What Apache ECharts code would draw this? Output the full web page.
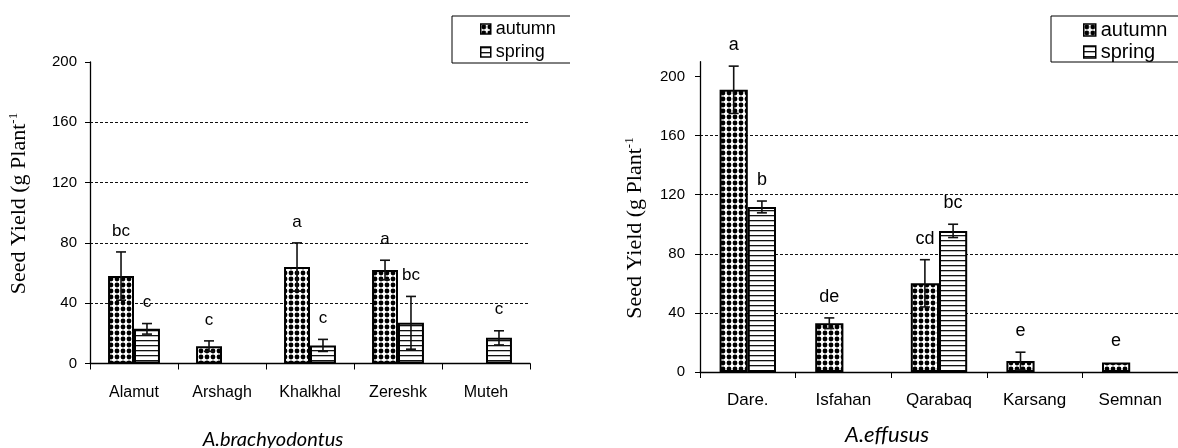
<!DOCTYPE html>
<html>
<head>
<meta charset="utf-8">
<script src="https://cdn.jsdelivr.net/npm/echarts@6/dist/echarts.min.js"></script>
<style>
html,body{margin:0;padding:0;background:#fff;}
#chart{width:1178px;height:448px;}
</style>
</head>
<body>
<div id="chart"></div>
<script>
// ---------- data ----------
const seasons = ['autumn', 'spring'];
const yTicksLeft = [0, 40, 80, 120, 160, 200];
const yTicksRight = [0, 40, 80, 120, 160, 200];

const leftCategories = ['Alamut', 'Arshagh', 'Khalkhal', 'Zereshk', 'Muteh'];
const leftAutumn = [58, 11.5, 64, 62, null];
const leftAutumnErr = [16, 3.5, 16, 6.5, null];
const leftAutumnLetters = ['bc', 'c', 'a', 'a', ''];
const leftSpring = [23, null, 12, 27, 17];
const leftSpringErr = [3.5, null, 4, 17.5, 4.7];
const leftSpringLetters = ['c', '', 'c', 'bc', 'c'];

const rightCategories = ['Dare.', 'Isfahan', 'Qarabaq', 'Karsang', 'Semnan'];
const rightAutumn = [191, 33, 60, 7.4, 6.5];
const rightAutumnErr = [16, 3.6, 16, 6, 0];
const rightAutumnLetters = ['a', 'de', 'cd', 'e', 'e'];
const rightSpring = [111.7, null, 95.5, null, null];
const rightSpringErr = [4, null, 4.5, null, null];
const rightSpringLetters = ['b', '', 'bc', '', ''];

const yTitle = 'Seed Yield (g Plant';
const yTitleSup = '-1';
const leftTitle = 'A.brachyodontus';
const rightTitle = 'A.effusus';

// ---------- styles ----------
const SANS = '"Liberation Sans", Arial, sans-serif';
const SERIF = '"Liberation Serif", "Times New Roman", serif';
const ITAL = 'Lato, "Open Sans", sans-serif';
const GAP = 0.41;

function dotPattern() {
  const c = document.createElement('canvas');
  c.width = 6; c.height = 6;
  const g = c.getContext('2d');
  g.fillStyle = '#fff'; g.fillRect(0, 0, 6, 6);
  g.fillStyle = '#000';
  g.beginPath();
  g.arc(3, 3, 2.4, 0, Math.PI * 2);
  g.fill();
  return c;
}
function linePattern() {
  const c = document.createElement('canvas');
  c.width = 4; c.height = 5;
  const g = c.getContext('2d');
  g.fillStyle = '#fff'; g.fillRect(0, 0, 4, 5);
  g.fillStyle = '#111'; g.fillRect(0, 0, 4, 1.3);
  return c;
}
const autumnFill = { image: dotPattern(), repeat: 'repeat' };
const springFill = { image: linePattern(), repeat: 'repeat' };

function barSeries(name, data, axis, fill) {
  return {
    type: 'bar', name: name, data: data,
    xAxisIndex: axis, yAxisIndex: axis,
    barGap: '0%', barCategoryGap: (GAP * 100) + '%',
    itemStyle: { color: fill, borderColor: '#000', borderWidth: 2 },
    emphasis: { disabled: true },
    animation: false, z: 2
  };
}

function errSeries(vals, errs, letters, axis, side, fontSize) {
  const data = [];
  vals.forEach((v, i) => { if (v != null) data.push([i, v, errs[i] == null ? 0 : errs[i]]); });
  return {
    type: 'custom', xAxisIndex: axis, yAxisIndex: axis, data: data,
    encode: { x: 0, y: 1 }, z: 5, silent: true, animation: false,
    renderItem: function (params, api) {
      const idx = api.value(0), v = api.value(1), e = api.value(2);
      const band = api.size([1, 0])[0];
      const bw = band * (1 - GAP) / 2;
      const x = api.coord([idx, v])[0] + side * bw / 2;
      const children = [];
      const topY = api.coord([idx, v + e])[1];
      if (e > 0) {
        const botY = api.coord([idx, v - e])[1];
        const st = { stroke: '#111', lineWidth: 1.6 };
        children.push({ type: 'line', shape: { x1: x, y1: topY, x2: x, y2: botY }, style: st });
        children.push({ type: 'line', shape: { x1: x - 5, y1: topY, x2: x + 5, y2: topY }, style: st });
        children.push({ type: 'line', shape: { x1: x - 5, y1: botY, x2: x + 5, y2: botY }, style: st });
      }
      const letter = letters[idx];
      if (letter) {
        children.push({
          type: 'text',
          style: { x: x, y: topY - 21, text: letter, align: 'center', verticalAlign: 'middle',
                   fontSize: fontSize, fontFamily: SANS, fill: '#000' }
        });
      }
      return { type: 'group', children: children };
    }
  };
}

function yAxisCfg(grid, max, ticks, fontSize, margin) {
  return {
    type: 'value', gridIndex: grid, min: 0, max: max, interval: 40,
    axisLine: { show: true, lineStyle: { color: '#000', width: 1.3 } },
    axisTick: { show: true, length: 5, customValues: ticks, lineStyle: { color: '#000' } },
    axisLabel: { customValues: ticks, color: '#000', fontFamily: SANS, fontSize: fontSize, margin: margin },
    splitLine: { show: true, showMaxLine: false, lineStyle: { color: '#111', type: [3, 2], width: 1 } }
  };
}
function xAxisCfg(grid, cats, fontSize, margin) {
  return {
    type: 'category', gridIndex: grid, data: cats,
    axisLine: { show: true, lineStyle: { color: '#000', width: 1.3 } },
    axisTick: { show: true, length: 6, alignWithLabel: false, lineStyle: { color: '#000' } },
    axisLabel: { color: '#000', fontFamily: SANS, fontSize: fontSize, margin: margin, interval: 0 },
    splitLine: { show: false }
  };
}

const chart = echarts.init(document.getElementById('chart'), null, { renderer: 'canvas' });

const option = {
  backgroundColor: '#fff',
  animation: false,
  grid: [
    { left: 90, right: 648, top: 62, bottom: 84.5 },
    { left: 700, right: -19, top: 61.7, bottom: 76 }
  ],
  xAxis: [
    xAxisCfg(0, leftCategories, 16, 21),
    xAxisCfg(1, rightCategories, 17, 20)
  ],
  yAxis: [
    yAxisCfg(0, 200, yTicksLeft, 15, 13),
    yAxisCfg(1, 210, yTicksRight, 15, 15)
  ],
  legend: [
    {
      data: seasons, orient: 'vertical', left: 452, top: 16,
      padding: [3, 30, 1, 28], itemGap: 3, itemWidth: 10, itemHeight: 10,
      icon: 'rect', backgroundColor: '#fff', borderColor: '#000', borderWidth: 1,
      itemStyle: { borderWidth: 1.5 },
      textStyle: { fontFamily: SANS, fontSize: 18, lineHeight: 20, color: '#000' },
      selectedMode: false, z: 10
    },
    {
      data: seasons, orient: 'vertical', left: 1051, top: 16,
      padding: [4, 30, 0, 32], itemGap: 2, itemWidth: 12, itemHeight: 12,
      icon: 'rect', backgroundColor: '#fff', borderColor: '#000', borderWidth: 1,
      itemStyle: { borderWidth: 1.5 },
      textStyle: { fontFamily: SANS, fontSize: 20, lineHeight: 20, color: '#000' },
      selectedMode: false, z: 10
    }
  ],
  graphic: [
    { type: 'rect', shape: { x: 570, y: 0, width: 40, height: 75 }, style: { fill: '#fff' }, z: 100, silent: true },
    {
      type: 'text', x: 19, y: 203.5, rotation: Math.PI / 2, z: 50,
      style: {
        text: yTitle + '{sup|' + yTitleSup + '}', align: 'center', verticalAlign: 'middle',
        fontFamily: SERIF, fontSize: 22, fill: '#000',
        rich: { sup: { fontFamily: SERIF, fontSize: 13, verticalAlign: 'top', fill: '#000', padding: [0, 0, 10, 0] } }
      }
    },
    {
      type: 'text', x: 635, y: 228, rotation: Math.PI / 2, z: 50,
      style: {
        text: yTitle + '{sup|' + yTitleSup + '}', align: 'center', verticalAlign: 'middle',
        fontFamily: SERIF, fontSize: 22, fill: '#000',
        rich: { sup: { fontFamily: SERIF, fontSize: 13, verticalAlign: 'top', fill: '#000', padding: [0, 0, 10, 0] } }
      }
    },
    {
      type: 'text', x: 273, y: 440, z: 50,
      style: { text: leftTitle, align: 'center', verticalAlign: 'middle', fontFamily: ITAL,
               fontStyle: 'italic', fontSize: 20, fill: '#000' }
    },
    {
      type: 'text', x: 887, y: 435, z: 50,
      style: { text: rightTitle, align: 'center', verticalAlign: 'middle', fontFamily: ITAL,
               fontStyle: 'italic', fontSize: 22, fill: '#000' }
    }
  ],
  series: [
    barSeries('autumn', leftAutumn, 0, autumnFill),
    barSeries('spring', leftSpring, 0, springFill),
    barSeries('autumn', rightAutumn, 1, autumnFill),
    barSeries('spring', rightSpring, 1, springFill),
    errSeries(leftAutumn, leftAutumnErr, leftAutumnLetters, 0, -1, 17),
    errSeries(leftSpring, leftSpringErr, leftSpringLetters, 0, 1, 17),
    errSeries(rightAutumn, rightAutumnErr, rightAutumnLetters, 1, -1, 18),
    errSeries(rightSpring, rightSpringErr, rightSpringLetters, 1, 1, 18)
  ]
};
chart.setOption(option);
</script>
</body>
</html>
